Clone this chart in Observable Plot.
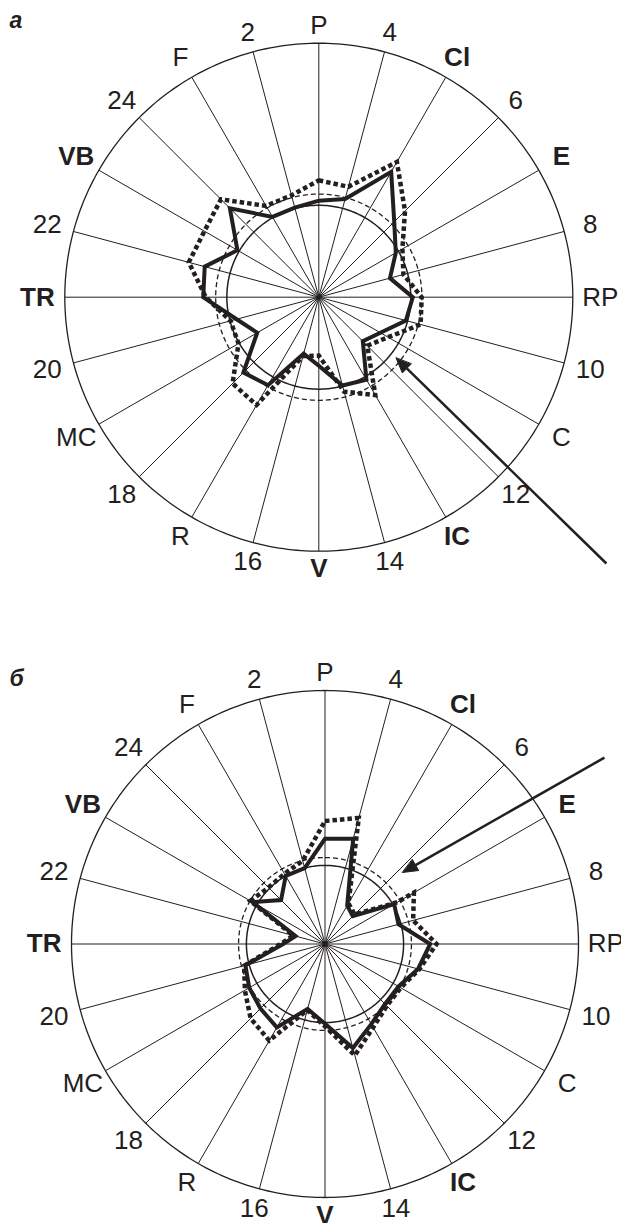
<!DOCTYPE html>
<html><head><meta charset="utf-8">
<script src="https://cdn.jsdelivr.net/npm/d3@7"></script>
<script src="https://cdn.jsdelivr.net/npm/@observablehq/plot@0.6"></script>
<style>
body{margin:0;background:#fff;}
#wrap{width:621px;}
#wrap svg{display:block;}
</style></head><body><div id="wrap"></div>
<script>
// spokes clockwise from top
const spokes = ["P","4","Cl","6","E","8","RP","10","C","12","IC","14","V","16","R","18","MC","20","TR","22","VB","24","F","2"];
const boldSpokes = ["Cl","E","IC","V","TR","VB"];
const outerValue = 100;

// panel а
const topSolid  = [38, 40, 57, 42, 35, 29, 37, 35.5, 28, 24.5, 37.5, 36, 27, 23, 40, 42, 28, 33.5, 45.5, 46.5, 37, 49.5, 36.5, 36.5];
const topDotted = [46, 45, 61.5, 48, 38, 34.5, 40.5, 41.5, 31.5, 27, 44.5, 38.5, 23, 24, 49, 48, 36.5, 36, 44.5, 53, 52, 54.5, 41.5, 41.5];
const topRings = [36.2, 40.6];          // solid ring, dashed ring
const topArrow = [[132.8, 154.3], [128.2, 38.7]]; // [angle, radius] tail, tip

// panel б
const botSolid  = [41.5, 43, 17.5, 15.5, 31.5, 30, 41.5, 38, 33.5, 33.5, 36.5, 42.5, 31.5, 26.5, 38, 36, 34.5, 32.5, 16.5, 12, 33, 24.5, 31, 31];
const botDottedSpokes = ["P","4","Cl","6","E","E","8","RP","10","C","12","IC","14","V","16","R","18","MC","20","TR","22","VB","24","F","2"];
const botDotted = [48.5, 51.5, 18.5, 16.5, 33, 40.5, 36, 44, 38.5, 34.5, 34.5, 38, 45.5, 32.5, 27, 44, 41.5, 36.5, 33, 17.5, 13, 34, 31.5, 32, 34];
const botRings = [31, 34.1];
const botArrow = [[56.3, 132.5], [47.3, 41.6]];

const panelLabels = ["а", "б"];

const ink = "#231f20";
const rad = d => d * Math.PI / 180;
const angleOf = s => spokes.indexOf(s) * 15;
const pt = (a, r) => ({x: r * Math.sin(rad(a)), y: r * Math.cos(rad(a))});
const ring = r => d3.range(0, 360, 1).map(a => pt(a, r));

function chart({solid, dottedSpokes, dotted, rings, arrow, panel, height, cx, cy, ppu, panelDy}) {
  const width = 621;
  const xDomain = [-cx / ppu, (width - cx) / ppu];
  const yDomain = [-(height - cy) / ppu, cy / ppu];
  const solidPts = spokes.map((s, i) => pt(angleOf(s), solid[i]));
  const dottedPts = dottedSpokes.map((s, i) => pt(angleOf(s), dotted[i]));
  const labelPts = spokes.map(s => {
    const a = angleOf(s);
    const r = outerValue + 7 + 3.8 * Math.abs(Math.sin(rad(a)));
    return {...pt(a, r), s};
  });
  // arrow
  const S = pt(arrow[0][0], arrow[0][1]);
  const T = pt(arrow[1][0], arrow[1][1]);
  const len = Math.hypot(T.x - S.x, T.y - S.y);
  const u = {x: (T.x - S.x) / len, y: (T.y - S.y) / len};
  const n = {x: -u.y, y: u.x};
  const L = 15 / ppu, W = 6.3 / ppu;
  const B = {x: T.x - u.x * L, y: T.y - u.y * L};
  const head = [T, {x: B.x + n.x * W, y: B.y + n.y * W}, {x: B.x - n.x * W, y: B.y - n.y * W}];

  return Plot.plot({
    width, height, margin: 0,
    x: {domain: xDomain, axis: null},
    y: {domain: yDomain, axis: null},
    style: {fontFamily: "'Liberation Sans', Arial, sans-serif", color: ink, background: "white", overflow: "visible"},
    marks: [
      Plot.link(spokes, {x1: () => 0, y1: () => 0,
        x2: s => pt(angleOf(s), outerValue).x, y2: s => pt(angleOf(s), outerValue).y,
        stroke: ink, strokeWidth: 1}),
      Plot.line(ring(outerValue), {x: "x", y: "y", curve: "linear-closed", stroke: ink, strokeWidth: 1.3}),
      Plot.line(ring(rings[0]), {x: "x", y: "y", curve: "linear-closed", stroke: ink, strokeWidth: 1.5}),
      Plot.line(ring(rings[1]), {x: "x", y: "y", curve: "linear-closed", stroke: ink, strokeWidth: 1.3, strokeDasharray: "5,3", strokeLinecap: "butt"}),
      Plot.line(solidPts, {x: "x", y: "y", curve: "linear-closed", stroke: ink, strokeWidth: 4,
        strokeLinejoin: "miter", strokeMiterlimit: 10, strokeLinecap: "butt"}),
      Plot.line(dottedPts, {x: "x", y: "y", curve: "linear-closed", stroke: ink, strokeWidth: 4.5,
        strokeDasharray: "4.5,3", strokeLinejoin: "miter", strokeMiterlimit: 10, strokeLinecap: "butt"}),
      Plot.link([0], {x1: () => S.x, y1: () => S.y, x2: () => B.x, y2: () => B.y, stroke: ink, strokeWidth: 2.5}),
      Plot.line(head, {x: "x", y: "y", curve: "linear-closed", fill: ink, stroke: ink, strokeWidth: 1}),
      Plot.text(labelPts.filter(d => !boldSpokes.includes(d.s)), {x: "x", y: "y", text: "s",
        fontSize: 26, textAnchor: "middle", lineAnchor: "middle", fill: ink}),
      Plot.text(labelPts.filter(d => boldSpokes.includes(d.s)), {x: "x", y: "y", text: "s",
        fontSize: 26, fontWeight: "bold", textAnchor: "middle", lineAnchor: "middle", fill: ink}),
      Plot.text([panel], {frameAnchor: "top-left", text: d => d, dx: 9, dy: panelDy,
        fontSize: 23, fontWeight: "bold", fontStyle: "italic", lineAnchor: "top", textAnchor: "start", fill: ink})
    ]
  });
}

const wrap = document.getElementById("wrap");
wrap.append(chart({solid: topSolid, dottedSpokes: spokes, dotted: topDotted, rings: topRings, arrow: topArrow,
  panel: panelLabels[0], height: 611, cx: 318.3, cy: 296.7, ppu: 2.54, panelDy: 11}));
wrap.append(chart({solid: botSolid, dottedSpokes: botDottedSpokes, dotted: botDotted, rings: botRings, arrow: botArrow,
  panel: panelLabels[1], height: 612, cx: 324.5, cy: 332.5, ppu: 2.535, panelDy: 58}));
</script>
</body></html>
